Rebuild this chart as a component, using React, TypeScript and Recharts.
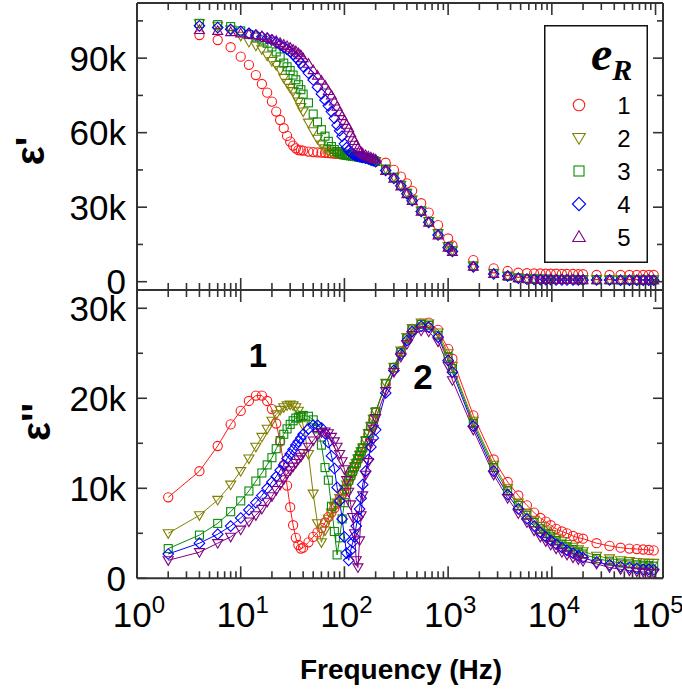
import { ComposedChart, Line, XAxis, YAxis, Legend } from 'recharts'

// measurement frequencies (Hz)
const FREQ = [
  2, 4, 6, 8, 10, 12, 14, 16, 18, 20,
  22, 24, 26, 28, 30, 32, 34, 36, 38, 40,
  45, 50, 55, 60, 65, 70, 75, 80, 85, 90,
  95, 100, 105, 110, 115, 120, 125, 130, 135, 140,
  145, 150, 160, 170, 180, 190, 200,
  250, 300, 350, 400, 450, 550, 650, 800, 1000, 1100,
  1750, 2750, 3750, 4750, 5750, 6750, 7750, 8750, 9750,
  11000, 12500, 14000, 16000, 18000, 20000,
  27000, 36000, 46000, 56000, 66000, 76000, 86000, 96000,
]

// ε' in thousands (no reading at 2 Hz)
const EPS1_1 = [
  null, 99.3, 97.3, 94.4, 90.6, 87.3, 83.2, 79.6, 76.1, 72.5,
  68.5, 65.1, 61.8, 58.7, 56.4, 54.8, 53.7, 53.0, 52.9, 52.8,
  52.4, 52.2, 52.1, 52.0, 51.9, 51.8, 51.7, 51.6, 51.5, 51.4,
  51.3, 51.2, 51.1, 51.0, 50.9, 50.8, 50.7, 50.6, 50.5, 50.4,
  50.3, 50.2, 49.9, 49.6, 49.2, 48.8, 48.4,
  47.9, 45.0, 42.3, 39.6, 36.6, 31.6, 27.8, 22.8, 17.4, 14.6,
  8.7, 5.4, 4.3, 3.6, 3.4, 3.3, 3.3, 3.2, 3.2,
  3.2, 3.1, 3.1, 3.1, 3.0, 3.0,
  2.7, 2.7, 2.7, 2.7, 2.7, 2.7, 2.7, 2.7,
]
const EPS1_2 = [
  null, 104.0, 103.0, 101.5, 99.0, 96.5, 95.0, 93.5, 91.0, 88.8,
  87.2, 85.2, 82.0, 80.0, 78.0, 76.7, 74.5, 72.5, 70.3, 68.5,
  64.0, 60.5, 57.5, 55.2, 53.7, 52.8, 52.3, 52.0, 51.8, 51.6,
  51.4, 51.2, 51.0, 50.9, 50.8, 50.7, 50.6, 50.5, 50.4, 50.3,
  50.2, 50.1, 49.9, 49.6, 49.3, 48.9, 48.5,
  45.5, 42.2, 39.0, 35.8, 33.0, 28.6, 24.4, 19.5, 14.3, 12.6,
  6.5, 3.4, 2.3, 1.6, 1.3, 1.2, 1.1, 1.1, 1.0,
  1.0, 1.0, 1.0, 0.9, 0.9, 0.9,
  0.9, 0.8, 0.8, 0.8, 0.8, 0.8, 0.8, 0.8,
]
const EPS1_3 = [
  null, 104.0, 103.5, 102.7, 101.0, 99.5, 98.5, 97.3, 96.0, 94.5,
  92.5, 90.5, 88.0, 86.5, 85.0, 83.2, 81.3, 79.3, 77.3, 75.5,
  72.0, 67.5, 64.3, 61.2, 58.6, 56.5, 54.4, 53.2, 52.4, 51.8,
  51.4, 51.1, 50.9, 50.8, 50.7, 50.6, 50.5, 50.4, 50.3, 50.2,
  50.1, 50.0, 49.8, 49.5, 49.2, 48.8, 48.4,
  45.2, 42.0, 38.8, 35.6, 32.8, 28.5, 24.2, 19.3, 14.1, 12.4,
  6.3, 3.3, 2.2, 1.5, 1.2, 1.1, 1.0, 1.0, 0.9,
  0.9, 0.9, 0.9, 0.9, 0.8, 0.8,
  0.8, 0.8, 0.7, 0.7, 0.7, 0.7, 0.7, 0.7,
]
const EPS1_4 = [
  null, 103.0, 102.3, 101.6, 100.8, 100.0, 99.3, 98.6, 98.0, 97.3,
  96.3, 95.3, 94.4, 93.5, 92.6, 91.5, 90.3, 89.2, 88.0, 86.6,
  84.0, 81.2, 78.3, 75.6, 73.2, 70.8, 68.5, 65.8, 63.0, 60.8,
  58.6, 55.5, 54.0, 52.8, 52.0, 51.4, 51.0, 50.7, 50.5, 50.3,
  50.1, 50.0, 49.7, 49.4, 49.0, 48.7, 48.3,
  44.8, 41.6, 38.6, 35.4, 32.6, 28.3, 23.9, 18.8, 13.8, 12.2,
  6.0, 3.1, 2.3, 1.4, 1.0, 0.9, 0.8, 0.8, 0.8,
  0.7, 0.7, 0.7, 0.7, 0.7, 0.7,
  0.7, 0.7, 0.6, 0.6, 0.6, 0.6, 0.6, 0.6,
]
const EPS1_5 = [
  null, 101.4, 101.0, 100.5, 100.0, 99.6, 99.3, 98.9, 98.2, 97.5,
  97.0, 96.2, 95.5, 94.9, 94.2, 93.4, 92.8, 92.0, 91.2, 90.0,
  87.8, 85.2, 83.0, 81.0, 79.0, 76.8, 75.0, 72.6, 70.5, 68.3,
  66.7, 64.8, 63.2, 61.8, 59.8, 58.0, 56.7, 55.0, 53.8, 52.9,
  52.2, 51.7, 51.0, 50.5, 50.1, 49.7, 49.3,
  44.6, 41.5, 38.4, 35.3, 32.5, 28.2, 23.8, 18.7, 13.7, 12.0,
  6.1, 3.2, 2.3, 1.5, 1.1, 0.9, 0.8, 0.8, 0.7,
  0.7, 0.7, 0.7, 0.7, 0.6, 0.6,
  0.6, 0.6, 0.6, 0.6, 0.6, 0.6, 0.6, 0.6,
]

// ε'' in thousands
const EPS2_1 = [
  9.0, 11.9, 14.7, 17.1, 18.6, 19.7, 20.3, 20.3, 19.7, 18.8,
  17.2, 15.2, 12.6, 10.3, 7.9, 5.9, 4.5, 3.7, 3.3, 3.4,
  4.0, 4.6, 5.1, 5.6, 6.2, 6.8, 7.3, 7.8, 8.3, 8.8,
  9.3, 9.8, 10.3, 10.8, 11.3, 11.8, 12.3, 12.7, 13.2, 13.6,
  14.0, 14.4, 15.2, 16.0, 16.8, 17.6, 18.4,
  21.6, 23.4, 25.2, 26.7, 27.7, 28.3, 28.4, 27.6, 25.5, 24.4,
  18.1, 13.2, 10.7, 9.2, 8.1, 7.3, 6.7, 6.3, 5.9,
  5.5, 5.2, 5.0, 4.7, 4.5, 4.4,
  3.9, 3.6, 3.4, 3.3, 3.25, 3.2, 3.15, 3.1,
]
const EPS2_2 = [
  5.0, 7.0, 8.7, 10.4, 11.9, 13.3, 14.6, 15.7, 16.6, 17.5,
  18.2, 18.7, 19.0, 19.2, 19.3, 19.2, 19.0, 18.6, 17.9, 17.0,
  13.8, 9.4, 6.1, 4.0, 5.3, 6.6, 7.3, 7.9, 8.4, 8.9,
  9.4, 9.9, 10.4, 10.9, 11.4, 11.9, 12.4, 12.8, 13.3, 13.7,
  14.1, 14.5, 15.3, 16.1, 16.9, 17.7, 18.5,
  21.7, 23.5, 25.3, 26.8, 27.8, 28.4, 28.3, 27.3, 25.0, 23.6,
  17.5, 12.6, 10.0, 8.4, 7.3, 6.5, 5.8, 5.3, 4.9,
  4.5, 4.1, 3.8, 3.5, 3.2, 3.0,
  2.5, 2.2, 2.0, 1.9, 1.8, 1.75, 1.7, 1.7,
]
const EPS2_3 = [
  3.3, 4.8, 6.1, 7.4, 8.6, 9.7, 10.8, 11.7, 12.6, 13.4,
  14.4, 15.3, 16.0, 16.6, 17.1, 17.5, 17.8, 17.9, 18.0, 18.1,
  18.0, 17.6, 16.6, 14.8, 12.3, 10.9, 8.0, 5.2, 2.6, 4.5,
  6.6, 8.4, 9.9, 10.9, 11.4, 11.9, 12.4, 12.8, 13.3, 13.7,
  14.1, 14.5, 15.3, 16.1, 16.9, 17.7, 18.5,
  21.6, 23.4, 25.1, 26.6, 27.6, 28.2, 28.1, 27.0, 24.6, 23.3,
  17.2, 12.3, 9.7, 8.1, 7.0, 6.2, 5.5, 5.0, 4.6,
  4.2, 3.8, 3.5, 3.2, 2.9, 2.7,
  2.2, 1.9, 1.7, 1.6, 1.5, 1.45, 1.4, 1.35,
]
const EPS2_4 = [
  2.7, 3.9, 4.9, 5.8, 6.7, 7.6, 8.4, 9.2, 10.0, 10.7,
  11.3, 12.0, 12.6, 13.3, 13.8, 14.3, 14.8, 15.2, 15.6, 16.0,
  16.6, 17.0, 17.0, 16.7, 16.1, 15.1, 13.6, 12.2, 10.1, 8.6,
  6.6, 4.6, 2.8, 2.0, 3.1, 4.0, 4.6, 5.8, 6.8, 7.7,
  8.9, 10.4, 11.9, 13.2, 14.6, 15.6, 16.5,
  20.6, 23.1, 24.9, 26.4, 27.4, 28.0, 27.9, 26.8, 24.2, 22.9,
  16.9, 11.9, 9.3, 7.7, 6.6, 5.8, 5.1, 4.6, 4.2,
  3.8, 3.4, 3.1, 2.8, 2.5, 2.3,
  1.8, 1.5, 1.3, 1.2, 1.1, 1.0, 1.0, 0.95,
]
const EPS2_5 = [
  2.0, 2.9, 3.9, 4.6, 5.4, 6.3, 7.0, 7.7, 8.5, 9.1,
  9.8, 10.4, 11.0, 11.6, 12.0, 12.4, 12.8, 13.2, 13.5, 13.9,
  14.6, 15.3, 15.9, 16.2, 16.3, 16.1, 15.7, 15.2, 14.6, 13.8,
  13.0, 12.1, 10.9, 9.6, 8.2, 6.8, 5.0, 2.0, 1.2, 4.2,
  7.0, 9.2, 11.5, 12.9, 15.0, 16.6, 17.8,
  20.8, 22.9, 24.6, 26.0, 27.0, 27.5, 27.4, 26.3, 23.6, 22.0,
  16.5, 11.5, 8.9, 7.2, 6.2, 5.3, 4.6, 4.1, 3.7,
  3.3, 2.9, 2.6, 2.3, 2.1, 1.9,
  1.6, 1.2, 1.0, 0.85, 0.75, 0.7, 0.6, 0.6,
]

const X_TICKS = [
  1, 2, 3, 4, 5, 6, 7, 8, 9,
  10, 20, 30, 40, 50, 60, 70, 80, 90,
  100, 200, 300, 400, 500, 600, 700, 800, 900,
  1000, 2000, 3000, 4000, 5000, 6000, 7000, 8000, 9000,
  10000, 20000, 30000, 40000, 50000, 60000, 70000, 80000, 90000,
  100000,
]
const X_DOMAIN = [1, 118000]

const TOP_Y_TICKS = [0, 15, 30, 45, 60, 75, 90, 105]
const TOP_Y_LABELS = [0, 30, 60, 90]
const TOP_Y_DOMAIN = [-3.34, 112.2]

const BOT_Y_TICKS = [0, 5, 10, 15, 20, 25, 30]
const BOT_Y_LABELS = [0, 10, 20, 30]
const BOT_Y_DOMAIN = [0, 32.03]

const SERIES = [
  { key: 's1', name: '1', color: '#ff1a1a', top: 'circle', bottom: 'circle', e1: EPS1_1, e2: EPS2_1 },
  { key: 's2', name: '2', color: '#808000', top: 'down', bottom: 'down', e1: EPS1_2, e2: EPS2_2 },
  { key: 's3', name: '3', color: '#0a8a0a', top: 'square', bottom: 'square', e1: EPS1_3, e2: EPS2_3 },
  { key: 's4', name: '4', color: '#0000ff', top: 'diamond', bottom: 'diamond', e1: EPS1_4, e2: EPS2_4 },
  { key: 's5', name: '5', color: '#800080', top: 'up', bottom: 'down', e1: EPS1_5, e2: EPS2_5 },
]

const topData = FREQ.map((f, i) => {
  const row: Record<string, number | null> = { f }
  SERIES.forEach((s) => { row[s.key] = s.e1[i] })
  return row
})

const bottomData = FREQ.map((f, i) => {
  const row: Record<string, number | null> = { f }
  SERIES.forEach((s) => { row[s.key] = s.e2[i] })
  return row
})

const FONT = '"Liberation Sans", Arial, sans-serif'
const AXIS = '#333'

function Marker({ cx, cy, shape, color, s = 1 }: any) {
  const common = { fill: 'none', stroke: color, strokeWidth: 1.1 }
  if (shape === 'circle') return <circle cx={cx} cy={cy} r={4.6 * s} {...common} />
  if (shape === 'square') return <rect x={cx - 4 * s} y={cy - 4 * s} width={8 * s} height={8 * s} {...common} />
  if (shape === 'diamond') {
    const d = 5.3 * s
    return <polygon points={`${cx},${cy - d} ${cx + d},${cy} ${cx},${cy + d} ${cx - d},${cy}`} {...common} />
  }
  const w = 5 * s
  if (shape === 'up') {
    return <polygon points={`${cx - w},${cy + 3.6 * s} ${cx + w},${cy + 3.6 * s} ${cx},${cy - 5 * s}`} {...common} />
  }
  return <polygon points={`${cx - w},${cy - 3.6 * s} ${cx + w},${cy - 3.6 * s} ${cx},${cy + 5 * s}`} {...common} />
}

function renderDot(shape: string, color: string) {
  return (p: any) => {
    if (p.value == null || p.cy == null || Number.isNaN(p.cy)) return <g key={p.index} />
    return (
      <g key={p.index}>
        <Marker cx={p.cx} cy={p.cy} shape={shape} color={color} />
      </g>
    )
  }
}

// x ticks drawn inward; dir = -1 points up, +1 points down
function XTick({ x, y, payload, dir, labels }: any) {
  const v = payload.value
  const exp = Math.round(Math.log10(v))
  const major = Math.abs(Math.log10(v) - exp) < 1e-6
  const len = major ? 12 : 7
  return (
    <g>
      <line x1={x} x2={x} y1={y} y2={y + dir * len} stroke={AXIS} strokeWidth={1.6} />
      {labels && major && (
        <text x={x + 2} y={y + 49} textAnchor="middle" fontFamily={FONT} fontSize={35} fill="#000">
          10
          <tspan fontSize={24} dy={-14}>{exp}</tspan>
        </text>
      )}
    </g>
  )
}

function YTick({ x, y, payload, dir, labels }: any) {
  const v = payload.value
  const major = labels.includes(v)
  const len = major ? 10 : 6
  return (
    <g>
      <line x1={x} x2={x + dir * len} y1={y} y2={y} stroke={AXIS} strokeWidth={1.6} />
      {dir > 0 && major && (
        <text x={x - 11} y={y} dy="0.36em" textAnchor="end" fontFamily={FONT} fontSize={35} fill="#000">
          {v === 0 ? '0' : `${v}k`}
        </text>
      )}
    </g>
  )
}

// rotated axis title at a fixed spot (posX/posY, so Label's own x/y don't override it)
function AxisTitle({ posX, posY, text }: any) {
  return (
    <text
      transform={`translate(${posX},${posY}) rotate(-90)`}
      textAnchor="middle"
      dy="0.35em"
      fontFamily={FONT}
      fontWeight="bold"
      fontSize={40}
      fill="#000"
    >
      {text}
    </text>
  )
}

function BottomTexts() {
  return (
    <g fontFamily={FONT} fontWeight="bold" fill="#000">
      <text x={258} y={75} dy="0.36em" textAnchor="middle" fontSize={33}>1</text>
      <text x={423} y={96} dy="0.36em" textAnchor="middle" fontSize={35}>2</text>
      <text x={401} y={399} textAnchor="middle" fontSize={28}>Frequency (Hz)</text>
    </g>
  )
}

function LegendBox() {
  return (
    <svg width={104} height={238} style={{ overflow: 'visible', display: 'block' }}>
      <rect x={0.75} y={0.75} width={102.5} height={236.5} fill="#fff" stroke="#111" strokeWidth={1.5} />
      <text x={47} y={45} fontFamily='"Liberation Serif", "Times New Roman", serif' fontWeight="bold" fontStyle="italic" fontSize={48} fill="#000">
        e
        <tspan fontSize={30} dy={10}>R</tspan>
      </text>
      {SERIES.map((s, i) => (
        <g key={s.key}>
          <Marker cx={35} cy={80 + i * 33} shape={s.top} color={s.color} s={1.25} />
          <text x={80} y={80 + i * 33} dy="0.36em" textAnchor="middle" fontFamily={FONT} fontSize={24} fill="#000">
            {s.name}
          </text>
        </g>
      ))}
    </svg>
  )
}

// axes are 1px thick so Recharts still draws them; margins are reduced by that pixel
const axisCommon = {
  allowDataOverflow: true,
  interval: 0 as const,
  tickSize: 0,
  tickMargin: 0,
  tickLine: false,
  axisLine: { stroke: AXIS, strokeWidth: 2 },
}

function PermittivityTop() {
  return (
    <ComposedChart
      width={682}
      height={300}
      data={topData}
      margin={{ top: 2, right: 18, bottom: 9, left: 136 }}
      style={{ position: 'absolute', left: 0, top: 0 }}
    >
      <XAxis xAxisId="b" dataKey="f" type="number" scale="log" domain={X_DOMAIN} ticks={X_TICKS} height={1}
        {...axisCommon} tick={<XTick dir={-1} labels={false} />} />
      <XAxis xAxisId="t" orientation="top" dataKey="f" type="number" scale="log" domain={X_DOMAIN} ticks={X_TICKS} height={1}
        {...axisCommon} tick={<XTick dir={1} labels={false} />} />
      <YAxis yAxisId="l" type="number" domain={TOP_Y_DOMAIN} ticks={TOP_Y_TICKS} width={1}
        {...axisCommon} tick={<YTick dir={1} labels={TOP_Y_LABELS} />}
        label={<AxisTitle posX={30} posY={151} text={"\u03b5'"} />} />
      <YAxis yAxisId="r" orientation="right" type="number" domain={TOP_Y_DOMAIN} ticks={TOP_Y_TICKS} width={1}
        {...axisCommon} tick={<YTick dir={-1} labels={TOP_Y_LABELS} />} />
      <Legend
        layout="vertical"
        align="center"
        verticalAlign="middle"
        wrapperStyle={{ left: 544, top: 25, width: 104, height: 238 }}
        content={() => <LegendBox />}
      />
      {SERIES.map((s) => (
        <Line
          key={s.key}
          xAxisId="b"
          yAxisId="l"
          dataKey={s.key}
          name={s.name}
          stroke="none"
          dot={renderDot(s.top, s.color)}
          activeDot={false}
          isAnimationActive={false}
        />
      ))}
    </ComposedChart>
  )
}

function PermittivityBottom() {
  return (
    <ComposedChart
      width={682}
      height={414}
      data={bottomData}
      margin={{ top: 9, right: 18, bottom: 114.7, left: 136 }}
      style={{ position: 'absolute', left: 0, top: 280 }}
    >
      <XAxis xAxisId="b" dataKey="f" type="number" scale="log" domain={X_DOMAIN} ticks={X_TICKS} height={1}
        {...axisCommon} tick={<XTick dir={-1} labels />} label={<BottomTexts />} />
      <XAxis xAxisId="t" orientation="top" dataKey="f" type="number" scale="log" domain={X_DOMAIN} ticks={X_TICKS} height={1}
        {...axisCommon} tick={<XTick dir={1} labels={false} />} />
      <YAxis yAxisId="l" type="number" domain={BOT_Y_DOMAIN} ticks={BOT_Y_TICKS} width={1}
        {...axisCommon} tick={<YTick dir={1} labels={BOT_Y_LABELS} />}
        label={<AxisTitle posX={36} posY={142} text={"\u03b5''"} />} />
      <YAxis yAxisId="r" orientation="right" type="number" domain={BOT_Y_DOMAIN} ticks={BOT_Y_TICKS} width={1}
        {...axisCommon} tick={<YTick dir={-1} labels={BOT_Y_LABELS} />} />
      {SERIES.map((s) => (
        <Line
          key={s.key}
          xAxisId="b"
          yAxisId="l"
          dataKey={s.key}
          name={s.name}
          stroke={s.color}
          strokeWidth={1}
          dot={renderDot(s.bottom, s.color)}
          activeDot={false}
          isAnimationActive={false}
        />
      ))}
    </ComposedChart>
  )
}

export default function App() {
  return (
    <div style={{ position: 'absolute', left: 0, top: 0, width: 682, height: 694, background: '#fff' }}>
      <PermittivityTop />
      <PermittivityBottom />
    </div>
  )
}
